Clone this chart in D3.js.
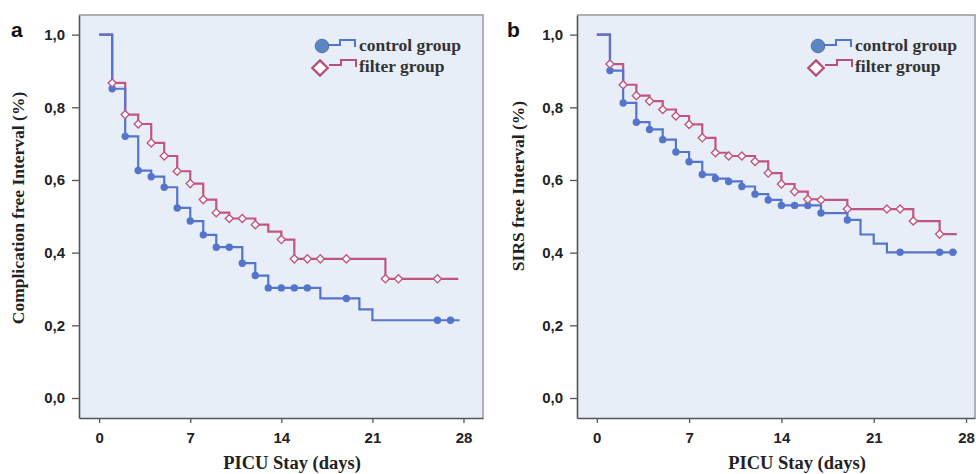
<!DOCTYPE html>
<html>
<head>
<meta charset="utf-8">
<script src="https://cdn.jsdelivr.net/npm/d3@7/dist/d3.min.js"></script>
<style>
  body { margin: 0; background: #fff; }
  svg { display: block; }
</style>
</head>
<body>
<svg id="chart" width="976" height="474"></svg>
<script>
//^^^^^^^^^^^^^^^^^^^^^^^^^^^^^^^^^^^^^^^^^^^^^^^^^^^^^^^^^^^^^^^^^^^^^^^^^^^^^^
// Data: [day, survival after the step]
//------------------------------------------------------------------------------
var dayTicks = [0, 7, 14, 21, 28],
    survTicks = [0, 0.2, 0.4, 0.6, 0.8, 1.0],
    groupNames = ["control group", "filter group"];

var complControlSteps = [[0, 1], [1, 0.851], [2, 0.72], [3, 0.626], [4, 0.609], [5, 0.58],
        [6, 0.523], [7, 0.487], [8, 0.449], [9, 0.415], [11, 0.371], [12, 0.337], [13, 0.303],
        [17, 0.274], [20, 0.244], [21, 0.214], [27.7, 0.214]],
    complControlCensor = [1, 2, 3, 4, 5, 6, 7, 8, 9, 10, 11, 12, 13, 14, 15, 16, 19, 26, 27];

var complFilterSteps = [[0, 1], [1, 0.867], [2, 0.78], [3, 0.754], [4, 0.702], [5, 0.666],
        [6, 0.624], [7, 0.59], [8, 0.546], [9, 0.51], [10, 0.494], [12, 0.477], [13, 0.458],
        [14, 0.436], [15, 0.383], [22, 0.328], [27.6, 0.328]],
    complFilterCensor = [1, 2, 3, 4, 5, 6, 7, 8, 9, 10, 11, 12, 14, 15, 16, 17, 19, 22, 23, 26];

var sirsControlSteps = [[0, 1], [1, 0.901], [2, 0.812], [3, 0.759], [4, 0.739], [5, 0.711],
        [6, 0.677], [7, 0.65], [8, 0.615], [9, 0.604], [10, 0.596], [11, 0.582], [12, 0.561],
        [13, 0.545], [14, 0.53], [17, 0.509], [19, 0.49], [20, 0.45], [21, 0.425], [22, 0.401],
        [27.3, 0.401]],
    sirsControlCensor = [1, 2, 3, 4, 5, 6, 7, 8, 9, 10, 11, 12, 13, 14, 15, 16, 17, 19, 23, 26, 27];

var sirsFilterSteps = [[0, 1], [1, 0.919], [2, 0.862], [3, 0.832], [4, 0.817], [5, 0.794],
        [6, 0.776], [7, 0.753], [8, 0.716], [9, 0.675], [10, 0.666], [12, 0.651], [13, 0.619],
        [14, 0.589], [15, 0.568], [16, 0.547], [17, 0.545], [19, 0.52], [24, 0.487], [26, 0.451],
        [27.3, 0.451]],
    sirsFilterCensor = [1, 2, 3, 4, 5, 6, 7, 8, 9, 10, 11, 12, 13, 14, 15, 16, 17, 19, 22, 23, 24, 26];

var blue = "#5574cc",
    pink = "#c2557f",
    serif = "'Liberation Serif', 'DejaVu Serif', serif",
    sans = "'Liberation Sans', Arial, sans-serif";

var svg = d3.select("#chart");

//^^^^^^^^^^^^^^^^^^^^^^^^^^^^^^^^^^^^^^^^^^^^^^^^^^^^^^^^^^^^^^^^^^^^^^^^^^^^^^
// Value of a step curve at a given day (after any drop on that day)
//------------------------------------------------------------------------------
function survAt(steps, t) {
    var v = steps[0][1];
    steps.forEach(function(s) { if (s[0] <= t) v = s[1]; });
    return v;
}

//^^^^^^^^^^^^^^^^^^^^^^^^^^^^^^^^^^^^^^^^^^^^^^^^^^^^^^^^^^^^^^^^^^^^^^^^^^^^^^
// Draws one panel: frame, axes, step curves, censor marks and legend
//------------------------------------------------------------------------------
function drawPanel(p) {

    var x = d3.scaleLinear().domain(p.xDomain).range([p.left, p.right]),
        y = d3.scaleLinear().domain([-0.055, 1.054]).range([418, 15]);

    var g = svg.append("g");

    g.append("rect")
        .attr("x", p.left)
        .attr("y", 15)
        .attr("width", p.right - p.left)
        .attr("height", 403)
        .attr("fill", "#e8eef8");

    g.append("path")
        .attr("d", "M" + p.left + ",15H" + p.right + "V418")
        .attr("fill", "none")
        .attr("stroke", "#9a9a9a")
        .attr("stroke-width", 1.5);

    var line = d3.line()
        .curve(d3.curveStepAfter)
        .x(function(d) { return x(d[0]); })
        .y(function(d) { return y(d[1]); });

    // filter curve first so the control curve sits on top where they touch
    g.append("path")
        .attr("d", line(p.filter))
        .attr("fill", "none")
        .attr("stroke", pink)
        .attr("stroke-width", 2.2);

    g.append("path")
        .attr("d", line(p.control))
        .attr("fill", "none")
        .attr("stroke", blue)
        .attr("stroke-width", 2.2);

    g.selectAll("circle.cens")
        .data(p.controlCensor)
        .enter().append("circle")
        .attr("class", "cens")
        .attr("cx", function(d) { return x(d); })
        .attr("cy", function(d) { return y(survAt(p.control, d)); })
        .attr("r", 3.7)
        .attr("fill", blue);

    g.selectAll("path.cens")
        .data(p.filterCensor)
        .enter().append("path")
        .attr("class", "cens")
        .attr("d", d3.symbol().type(d3.symbolDiamond2).size(42))
        .attr("transform", function(d) {
            return "translate(" + x(d) + "," + y(survAt(p.filter, d)) + ")";
        })
        .attr("fill", "#fff")
        .attr("stroke", pink)
        .attr("stroke-width", 1.4);

    //^^^^^^^^^^^^^^^^^^^^^^^^^^^^^^^^^^^^^^^^^^^^^^^^^^^^^^^^^^^^^^^^^^^^^^^^^^^^
    // Axes
    //----------------------------------------------------------------------------
    var yAxis = g.append("g")
        .attr("transform", "translate(" + p.left + ",0)")
        .call(d3.axisLeft(y)
            .tickValues(survTicks)
            .tickSizeInner(7)
            .tickSizeOuter(0)
            .tickPadding(7)
            .tickFormat(function(d) { return d3.format(".1f")(d).replace(".", ","); }));

    var xAxis = g.append("g")
        .attr("transform", "translate(0,418)")
        .call(d3.axisBottom(x)
            .tickValues(dayTicks)
            .tickSizeInner(5)
            .tickSizeOuter(0)
            .tickPadding(9));

    [yAxis, xAxis].forEach(function(a) {
        a.select(".domain").attr("stroke", "#555").attr("stroke-width", 1.6);
        a.selectAll(".tick line").attr("stroke", "#555").attr("stroke-width", 1.3);
        a.selectAll(".tick text")
            .attr("fill", "#222")
            .style("font-family", sans)
            .style("font-size", "15px")
            .style("font-weight", "bold");
    });

    g.append("text")
        .attr("x", p.xTitleX)
        .attr("y", 469)
        .attr("text-anchor", "middle")
        .style("font-family", serif)
        .style("font-size", "18.5px")
        .style("font-weight", "bold")
        .attr("fill", "#222")
        .text("PICU Stay (days)");

    g.append("text")
        .attr("transform", "translate(" + p.yTitleX + "," + p.yTitleY + ") rotate(-90)")
        .attr("text-anchor", "middle")
        .style("font-family", serif)
        .style("font-size", "17.5px")
        .style("font-weight", "bold")
        .attr("fill", "#222")
        .text(p.yTitle);

    g.append("text")
        .attr("x", p.tagX)
        .attr("y", 37)
        .style("font-family", sans)
        .style("font-size", "21px")
        .style("font-weight", "bold")
        .attr("fill", "#111")
        .text(p.tag);

    //^^^^^^^^^^^^^^^^^^^^^^^^^^^^^^^^^^^^^^^^^^^^^^^^^^^^^^^^^^^^^^^^^^^^^^^^^^^^
    // Legend
    //----------------------------------------------------------------------------
    var lx = p.legendX, ly = 46;

    g.append("path")
        .attr("d", "M" + (lx + 6) + "," + (ly - 1) + "H" + (lx + 18) + "V" + (ly - 6) +
            "H" + (lx + 33) + "V" + (ly + 1))
        .attr("fill", "none")
        .attr("stroke", blue)
        .attr("stroke-width", 2);

    g.append("circle")
        .attr("cx", lx)
        .attr("cy", ly)
        .attr("r", 6.8)
        .attr("fill", "#5b86c2")
        .attr("stroke", "#4a72b0")
        .attr("stroke-width", 1);

    var dy = ly + 22;

    g.append("path")
        .attr("d", "M" + (lx + 7) + "," + (dy - 3) + "H" + (lx + 19) + "V" + (dy - 8) +
            "H" + (lx + 34) + "V" + (dy - 1))
        .attr("fill", "none")
        .attr("stroke", "#b84f7c")
        .attr("stroke-width", 2);

    g.append("path")
        .attr("d", d3.symbol().type(d3.symbolDiamond2).size(150))
        .attr("transform", "translate(" + (lx - 2) + "," + dy + ")")
        .attr("fill", "#fff")
        .attr("stroke", "#b84f7c")
        .attr("stroke-width", 2.4);

    g.selectAll("text.legend")
        .data(groupNames)
        .enter().append("text")
        .attr("class", "legend")
        .attr("x", lx + 37)
        .attr("y", function(d, i) { return i ? 72 : 51; })
        .style("font-family", serif)
        .style("font-size", "17.5px")
        .style("font-weight", "bold")
        .attr("fill", "#333")
        .text(function(d) { return d; });
}

drawPanel({
    tag: "a", tagX: 11,
    left: 79, right: 483, xDomain: [-1.55, 29.5],
    control: complControlSteps, controlCensor: complControlCensor,
    filter: complFilterSteps, filterCensor: complFilterCensor,
    yTitle: "Complication free Interval (%)", yTitleX: 24, yTitleY: 208,
    xTitleX: 292, legendX: 322
});

drawPanel({
    tag: "b", tagX: 507,
    left: 577, right: 975, xDomain: [-1.5, 28.68],
    control: sirsControlSteps, controlCensor: sirsControlCensor,
    filter: sirsFilterSteps, filterCensor: sirsFilterCensor,
    yTitle: "SIRS free Interval (%)", yTitleX: 524, yTitleY: 186,
    xTitleX: 797, legendX: 818
});
</script>
</body>
</html>
